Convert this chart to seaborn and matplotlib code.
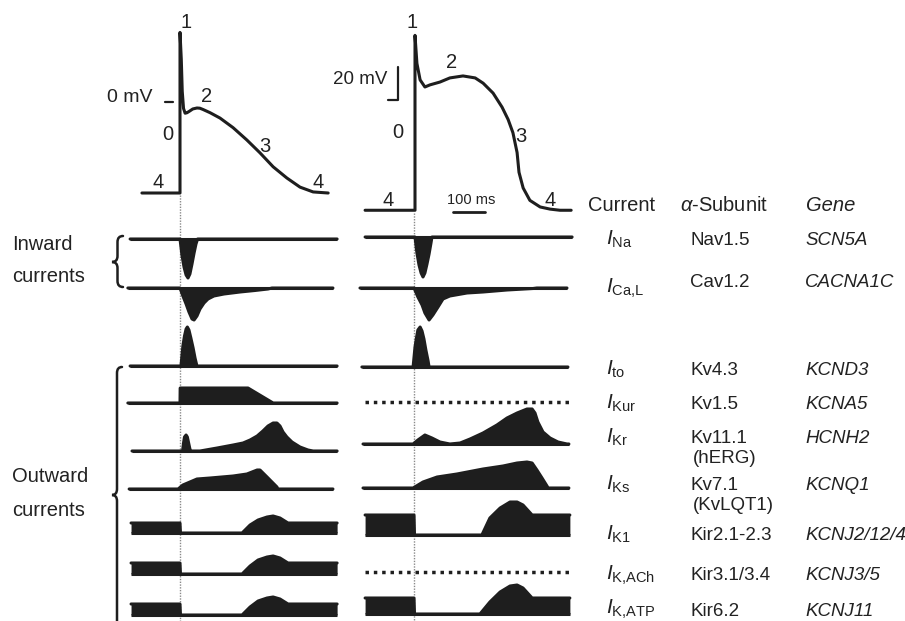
import numpy as np
import matplotlib
matplotlib.use("Agg")
import matplotlib.pyplot as plt
from matplotlib.path import Path
from matplotlib.patches import PathPatch
import seaborn as sns

# ------------------------------------------------------------------ data
# Action potentials: time (ms, 0 = upstroke) and membrane potential (mV)
ap_left_t = [-119, 0, 0, 4, 7, 11, 16, 22, 30, 40, 53, 62, 72, 94, 125, 166, 209, 250,
             291, 334, 375, 416, 463]
ap_left_v = [-85, -85, 65, 40, 10, -6, -10.5, -10, -8.5, -6.5, -5.6, -5.8, -7, -10, -15,
             -24, -35.5, -47.5, -60.5, -71, -79.5, -84, -85]

ap_right_t = [-156, 0, 0, 6, 16, 31, 47, 78, 109, 150, 188, 213, 244, 272, 291, 306,
              319, 325, 338, 359, 391, 422, 453, 488]
ap_right_v = [-85, -85, 21, 4, -6, -10.3, -9, -7.3, -4.8, -3.6, -4.8, -8, -14, -22.5, -30,
              -38, -50, -62, -71.5, -79, -83, -84.3, -85, -85]

scale_mv = 20      # vertical scale bar
scale_ms = 100     # horizontal scale bar

# Currents (time in ms, amplitude in arbitrary units; inward negative)
ina_l_t = [-156, 0, 3, 6, 12.5, 19, 25, 31, 37.5, 44, 50, 55, 491]
ina_l_a = [0, 0, -8, -16, -28, -36, -39, -35, -25, -14, -5, 0, 0]
ical_l_t = [-163, 0, 9, 19, 28, 37.5, 44, 53, 62.5, 75, 87.5, 106, 137.5, 187.5, 234, 275,
            287.5, 478]
ical_l_a = [0, 0, -8, -16, -24, -31, -32, -28, -21, -15, -11, -8, -6, -4, -2.5, -1, 0, 0]
ito_l_t = [-156, 3, 6, 9, 14, 19, 23, 28, 34, 41, 47, 53, 491]
ito_l_a = [0, 0, 10, 20, 30, 37, 39, 36, 28, 18, 8, 0, 0]
ikur_l_t = [-163, 0, 0.5, 212.5, 291, 491]
ikur_l_a = [0, 0, 15, 15, 0, 0]
ikr_l_t = [-150, 8, 11, 14, 19, 23, 27, 31, 34, 62.5, 116, 166, 197, 219, 241, 259, 275,
           291, 303, 312.5, 322, 334, 350, 375, 400, 416, 491]
ikr_l_a = [0, 0, 8, 14, 16, 14, 8, 2, 0, 0, 3, 6, 8, 11, 15, 20, 25, 28, 28, 25, 19, 14, 9,
           4, 1, 0, 0]
iks_l_t = [-159, -6, 9, 31, 53, 94, 166, 209, 241, 250, 272, 287.5, 303, 306, 478]
iks_l_a = [0, 0, 4, 7, 10, 11, 13, 15, 19, 19, 12, 7, 2, 0, 0]
ik1_l_t = [-153, 0, 1.5, 194, 219, 244, 272, 291, 312.5, 337.5, 491]
ik1_l_a = [10, 10, 0, 0, 8, 13, 16, 17, 15, 10, 10]
ikach_l_t = [-153, 0, 1.5, 194, 219, 244, 272, 291, 312.5, 337.5, 491]
ikach_l_a = [11, 11, 0, 0, 8, 14, 17, 18, 16, 11, 11]
ikatp_l_t = [-153, 0, 1.5, 194, 219, 244, 272, 291, 312.5, 337.5, 491]
ikatp_l_a = [11, 11, 0, 0, 8, 14, 17, 18, 16, 11, 11]

ina_r_t = [-156, 0, 3, 6, 12.5, 19, 25, 31, 37.5, 44, 50, 53, 491]
ina_r_a = [0, 0, -8, -16, -28, -36, -40, -36, -27, -17, -6, 0, 0]
ical_r_t = [-172, -3, 9, 22, 31, 44, 56, 72, 87.5, 109, 162.5, 212.5, 287.5, 369, 381, 475]
ical_r_a = [0, 0, -9, -17, -25, -32, -27, -19, -11, -8, -5, -4, -2, -0.5, 0, 0]
ito_r_t = [-166, -6, -3, 0, 5, 9, 16, 22, 28, 34, 41, 44, 478]
ito_r_a = [0, 0, 10, 20, 30, 37, 40, 36, 28, 17, 6, 0, 0]
ikur_r_t = [-156, 484]          # not expressed: dotted
ikr_r_t = [-162.5, -6, 9, 31, 53, 78, 109, 141, 172, 212.5, 256, 287.5, 319, 350, 366, 375,
           384, 400, 422, 447, 475, 481]
ikr_r_a = [0, 0, 4, 9, 6, 2, 0, 1, 5, 11, 19, 26, 31, 35, 35, 31, 22, 12, 6, 2, 0, 0]
iks_r_t = [-162.5, -6, 25, 69, 131, 212.5, 275, 319, 350, 366, 381, 397, 412.5, 416, 481]
iks_r_a = [0, 0, 6, 11, 14, 19, 22, 25, 26, 25, 18, 10, 2, 0, 0]
ik1_r_t = [-156, -3, -1.5, 209, 234, 266, 297, 319, 337.5, 366, 484]
ik1_r_a = [20, 20, 0, 0, 17, 27, 33, 33, 30, 20, 20]
ikach_r_t = [-156, 484]         # not expressed: dotted
ikatp_r_t = [-156, -3, -1.5, 203, 234, 266, 297, 319, 337.5, 366, 484]
ikatp_r_a = [16, 16, 0, 0, 12, 22, 28, 29, 26, 16, 16]

current_labels = [r"$I_{\mathrm{Na}}$", r"$I_{\mathrm{Ca{,}L}}$", r"$I_{\mathrm{to}}$",
                  r"$I_{\mathrm{Kur}}$", r"$I_{\mathrm{Kr}}$", r"$I_{\mathrm{Ks}}$",
                  r"$I_{\mathrm{K1}}$", r"$I_{\mathrm{K{,}ACh}}$", r"$I_{\mathrm{K{,}ATP}}$"]
subunits = ["Nav1.5", "Cav1.2", "Kv4.3", "Kv1.5", "Kv11.1", "Kv7.1", "Kir2.1-2.3",
            "Kir3.1/3.4", "Kir6.2"]
subunit_notes = ["", "", "", "", "(hERG)", "(KvLQT1)", "", "", ""]
genes = ["SCN5A", "CACNA1C", "KCND3", "KCNA5", "HCNH2", "KCNQ1", "KCNJ2/12/4",
         "KCNJ3/5", "KCNJ11"]

# ------------------------------------------------------------------ style / layout
sns.set_theme(style="white")
plt.rcParams["font.family"] = ["Liberation Sans", "DejaVu Sans"]
plt.rcParams["mathtext.fontset"] = "custom"
plt.rcParams["mathtext.rm"] = "Liberation Sans"
plt.rcParams["mathtext.it"] = "Liberation Sans:italic"
plt.rcParams["mathtext.bf"] = "Liberation Sans:bold"

W, H = 905, 621
MS_PER_PX = 3.125
INK = "#1e1e1e"
TXT = "#222222"
LW = 2.2

fig = plt.figure(figsize=(W / 100, H / 100), dpi=100)
fig.patch.set_facecolor("white")


def make_ax(x0, y0, ys):
    """Transparent full-figure axes: t=0 at pixel x0, value 0 at pixel y0 (from top)."""
    ax = fig.add_axes([0, 0, 1, 1])
    ax.patch.set_alpha(0)
    ax.set_xlim(-x0 * MS_PER_PX, (W - x0) * MS_PER_PX)
    ax.set_ylim((y0 - H) * ys, y0 * ys)
    ax.axis("off")
    return ax


def draw_current(x0, base, t, a):
    ax = make_ax(x0, base, 1.0)
    t = np.asarray(t, float)
    a = np.asarray(a, float)
    ax.fill_between(t, 0, a, color=INK, linewidth=0)
    sns.lineplot(x=t, y=a, ax=ax, color=INK, linewidth=LW, sort=False, estimator=None)
    ax.plot([t[0], t[-1]], [0, 0], color=INK, lw=LW, solid_capstyle="butt")


def draw_absent(x0, base, t):
    ax = make_ax(x0, base, 1.0)
    ax.plot(t, [0, 0], color=INK, lw=2.5, linestyle=(0, (1.0, 1.4)), dash_capstyle="butt")


# overlay for text / braces (pixel coordinates, y downward)
ov = fig.add_axes([0, 0, 1, 1])
ov.patch.set_alpha(0)
ov.set_xlim(0, W)
ov.set_ylim(H, 0)
ov.axis("off")

# ---- Action potentials
LX0, RX0 = 180, 415
axL = make_ax(LX0, 102, 0.934)
sns.lineplot(x=ap_left_t, y=ap_left_v, ax=axL, color=INK, linewidth=LW, sort=False,
             estimator=None)
axL.plot([-47, -22], [0, 0], color=INK, lw=1.6)
axL.plot([0, 0], [-87, -600], color="#8a8a8a", lw=1.0, linestyle=(0, (1, 1)))

axR = make_ax(RX0, 70, 0.606)
sns.lineplot(x=ap_right_t, y=ap_right_v, ax=axR, color=INK, linewidth=LW, sort=False,
             estimator=None)
axR.plot([-3, -3], [-86.5, -400], color="#8a8a8a", lw=1.0, linestyle=(0, (1, 1)))
# scale bars
axR.plot([-84, -53, -53], [-18.2, -18.2, -18.2 + scale_mv], color=INK, lw=1.6)
axR.plot([119, 119 + scale_ms], [-86, -86], color=INK, lw=2.0)

# ---- currents
left_bases = [239, 288, 366, 403, 451, 489, 533, 574, 615]
right_bases = [237, 288, 367, 402, 444, 488, 535, 572, 614]

left_traces = [(ina_l_t, ina_l_a), (ical_l_t, ical_l_a), (ito_l_t, ito_l_a),
               (ikur_l_t, ikur_l_a), (ikr_l_t, ikr_l_a), (iks_l_t, iks_l_a),
               (ik1_l_t, ik1_l_a), (ikach_l_t, ikach_l_a), (ikatp_l_t, ikatp_l_a)]
right_traces = [(ina_r_t, ina_r_a), (ical_r_t, ical_r_a), (ito_r_t, ito_r_a),
                (ikur_r_t, None), (ikr_r_t, ikr_r_a), (iks_r_t, iks_r_a),
                (ik1_r_t, ik1_r_a), (ikach_r_t, None), (ikatp_r_t, ikatp_r_a)]

for base, (t, a) in zip(left_bases, left_traces):
    draw_current(LX0, base, t, a)
for base, (t, a) in zip(right_bases, right_traces):
    if a is None:
        draw_absent(RX0, base, t)
    else:
        draw_current(RX0, base, t, a)

# ---- AP annotations
FS = 14.5
for s, x, y in [("1", 186, 22), ("2", 207, 97), ("0", 168, 134), ("3", 265, 147),
                ("4", 158, 183), ("4", 318, 183),
                ("1", 412, 22), ("2", 452, 62), ("0", 398, 132), ("3", 521, 137),
                ("4", 388, 200), ("4", 550, 200)]:
    ov.text(x, y, s, fontsize=FS, color=TXT, ha="center", va="center")
ov.text(130, 97, "0 mV", fontsize=14, color=TXT, ha="center", va="center")
ov.text(360, 80, f"{scale_mv} mV", fontsize=13.5, color=TXT, ha="center", va="center")
ov.text(471, 200, f"{scale_ms} ms", fontsize=10.5, color=TXT, ha="center", va="center")

# ---- braces and group labels
def brace(x_tip, x_end, y1, y2, ym, r=6):
    xm = (x_tip + x_end) / 2
    verts = [(x_end, y1), (xm, y1), (xm, y1 + r), (xm, ym - r), (xm, ym), (x_tip, ym),
             (xm, ym), (xm, ym + r), (xm, y2 - r), (xm, y2), (x_end, y2)]
    codes = [Path.MOVETO, Path.CURVE3, Path.CURVE3, Path.LINETO, Path.CURVE3, Path.CURVE3,
             Path.CURVE3, Path.CURVE3, Path.LINETO, Path.CURVE3, Path.CURVE3]
    ov.add_patch(PathPatch(Path(verts, codes), fill=False, lw=1.8, color=INK,
                           capstyle="round"))


brace(112, 123, 236, 287, 262)
brace(112, 122, 367, 650, 495)
ov.text(12, 245, "Inward", fontsize=FS, color=TXT, ha="left", va="center")
ov.text(12, 277, "currents", fontsize=FS, color=TXT, ha="left", va="center")
ov.text(12, 477, "Outward", fontsize=FS, color=TXT, ha="left", va="center")
ov.text(12, 510, "currents", fontsize=FS, color=TXT, ha="left", va="center")

# ---- table
ov.text(588, 211, "Current", fontsize=FS, color=TXT, ha="left", va="baseline")
ov.text(680, 211, r"$\alpha$-Subunit", fontsize=FS, color=TXT, ha="left", va="baseline")
ov.text(806, 211, "Gene", fontsize=FS, color=TXT, ha="left", va="baseline",
        style="italic")
label_base = [245, 293, 375, 409, 443, 490, 540, 580, 614]
entry_base = [245, 287, 375, 409, 443, 490, 540, 580, 616]
for lab, sub, note, gene, yl, ye in zip(current_labels, subunits, subunit_notes, genes,
                                        label_base, entry_base):
    ov.text(606, yl, lab, fontsize=15, color=TXT, ha="left", va="baseline")
    ov.text(690, ye, sub, fontsize=13.5, color=TXT, ha="left", va="baseline")
    if note:
        ov.text(693, ye + 20, note, fontsize=13.5, color=TXT, ha="left", va="baseline")
    ov.text(805, ye, gene, fontsize=13.5, color=TXT, ha="left", va="baseline",
            style="italic")

fig.savefig("out.png", dpi=100, facecolor="white")
